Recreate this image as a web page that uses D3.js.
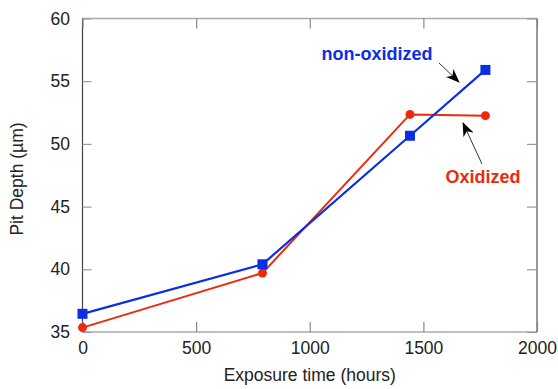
<!DOCTYPE html>
<html>
<head>
<meta charset="utf-8">
<script src="https://cdn.jsdelivr.net/npm/d3@7"></script>
<style>
  html, body { margin: 0; padding: 0; background: #fff; }
  svg { display: block; font-family: "Liberation Sans", Arial, sans-serif; }
</style>
</head>
<body>
<svg id="chart" width="558" height="389"></svg>
<script>
// Data
const hours = [0, 792, 1441, 1773];
const nonOxidized = [36.45, 40.4, 50.65, 55.9];
const oxidized = [35.35, 39.7, 52.35, 52.25];
const xTicks = [0, 500, 1000, 1500, 2000];
const yTicks = [35, 40, 45, 50, 55, 60];

const width = 558, height = 389;
const margin = { top: 18.5, right: 21, bottom: 57, left: 82.5 };
const plotW = width - margin.left - margin.right;
const plotH = height - margin.top - margin.bottom;

const blue = '#0a2ee6';
const red = '#ec2a0c';

const svg = d3.select('#chart');
const g = svg.append('g').attr('transform', `translate(${margin.left},${margin.top})`);

const x = d3.scaleLinear().domain([0, 2000]).range([0, plotW]);
const y = d3.scaleLinear().domain([35, 60]).range([plotH, 0]);

// Frame
g.append('line').attr('x1', 0).attr('x2', plotW).attr('y1', 0).attr('y2', 0).attr('stroke', '#aaa').attr('stroke-width', 1.5);
g.append('line').attr('x1', 0).attr('x2', plotW).attr('y1', plotH).attr('y2', plotH).attr('stroke', '#aaa').attr('stroke-width', 1.5);
g.append('line').attr('x1', 0).attr('x2', 0).attr('y1', 0).attr('y2', plotH).attr('stroke', '#444').attr('stroke-width', 1.2);
g.append('line').attr('x1', plotW).attr('x2', plotW).attr('y1', 0).attr('y2', plotH).attr('stroke', '#555').attr('stroke-width', 1.2);

// Bottom axis (ticks inward)
const xAxis = g.append('g').attr('transform', `translate(0,${plotH})`)
  .call(d3.axisBottom(x).tickValues(xTicks).tickSize(-10).tickPadding(10).tickFormat(d3.format('d')));
xAxis.select('.domain').remove();
xAxis.selectAll('line').attr('stroke', '#888').attr('stroke-width', 1.2);
xAxis.selectAll('text').attr('fill', '#222').style('font-size', '17.5px');

// Top axis ticks
const xTop = g.append('g')
  .call(d3.axisTop(x).tickValues(xTicks).tickSize(-10).tickFormat(''));
xTop.select('.domain').remove();
xTop.selectAll('line').attr('stroke', '#888').attr('stroke-width', 1.2);

// Left axis
const yAxis = g.append('g')
  .call(d3.axisLeft(y).tickValues(yTicks).tickSize(-9).tickPadding(12.5));
yAxis.select('.domain').remove();
yAxis.selectAll('line').attr('stroke', '#999').attr('stroke-width', 1.2);
yAxis.selectAll('text').attr('fill', '#222').style('font-size', '17.5px');

// Right axis ticks
const yRight = g.append('g').attr('transform', `translate(${plotW},0)`)
  .call(d3.axisRight(y).tickValues(yTicks).tickSize(-10).tickFormat(''));
yRight.select('.domain').remove();
yRight.selectAll('line').attr('stroke', '#999').attr('stroke-width', 1.2);

// Series
const line = d3.line().x(d => x(d[0])).y(d => y(d[1]));
const redPts = hours.map((h, i) => [h, oxidized[i]]);
const bluePts = hours.map((h, i) => [h, nonOxidized[i]]);

g.append('path').datum(redPts).attr('d', line).attr('fill', 'none').attr('stroke', red).attr('stroke-width', 2);
g.append('path').datum(bluePts).attr('d', line).attr('fill', 'none').attr('stroke', blue).attr('stroke-width', 2.2);

g.selectAll('.redPt').data(redPts).enter().append('circle')
  .attr('cx', d => x(d[0])).attr('cy', d => y(d[1])).attr('r', 4.5).attr('fill', red);
g.selectAll('.bluePt').data(bluePts).enter().append('rect')
  .attr('x', d => x(d[0]) - 5).attr('y', d => y(d[1]) - 5).attr('width', 10).attr('height', 10).attr('fill', blue);

// Annotations
const defs = svg.append('defs');
defs.append('marker').attr('id', 'arrow').attr('viewBox', '0 0 14 11')
  .attr('refX', 13).attr('refY', 5.5).attr('markerWidth', 14).attr('markerHeight', 11)
  .attr('markerUnits', 'userSpaceOnUse').attr('orient', 'auto')
  .append('path').attr('d', 'M0,0 L14,5.5 L0,11 L4,5.5 Z').attr('fill', '#000');

svg.append('line').attr('x1', 439).attr('y1', 63).attr('x2', 459).attr('y2', 82)
  .attr('stroke', '#333').attr('stroke-width', 1).attr('marker-end', 'url(#arrow)');
svg.append('line').attr('x1', 482).attr('y1', 164).attr('x2', 463).attr('y2', 123)
  .attr('stroke', '#333').attr('stroke-width', 1).attr('marker-end', 'url(#arrow)');

svg.append('text').attr('x', 377).attr('y', 60).attr('text-anchor', 'middle')
  .attr('fill', blue).style('font-size', '18px').style('font-weight', 'bold').text('non-oxidized');
svg.append('text').attr('x', 483).attr('y', 183).attr('text-anchor', 'middle')
  .attr('fill', red).style('font-size', '18px').style('font-weight', 'bold').text('Oxidized');

// Axis titles
svg.append('text').attr('x', margin.left + plotW / 2).attr('y', 381).attr('text-anchor', 'middle')
  .attr('fill', '#222').style('font-size', '17.5px').text('Exposure time (hours)');
svg.append('text').attr('transform', `translate(23,179) rotate(-90)`)
  .attr('text-anchor', 'middle').attr('fill', '#222').style('font-size', '17.5px').text('Pit Depth (µm)');
</script>
</body>
</html>
